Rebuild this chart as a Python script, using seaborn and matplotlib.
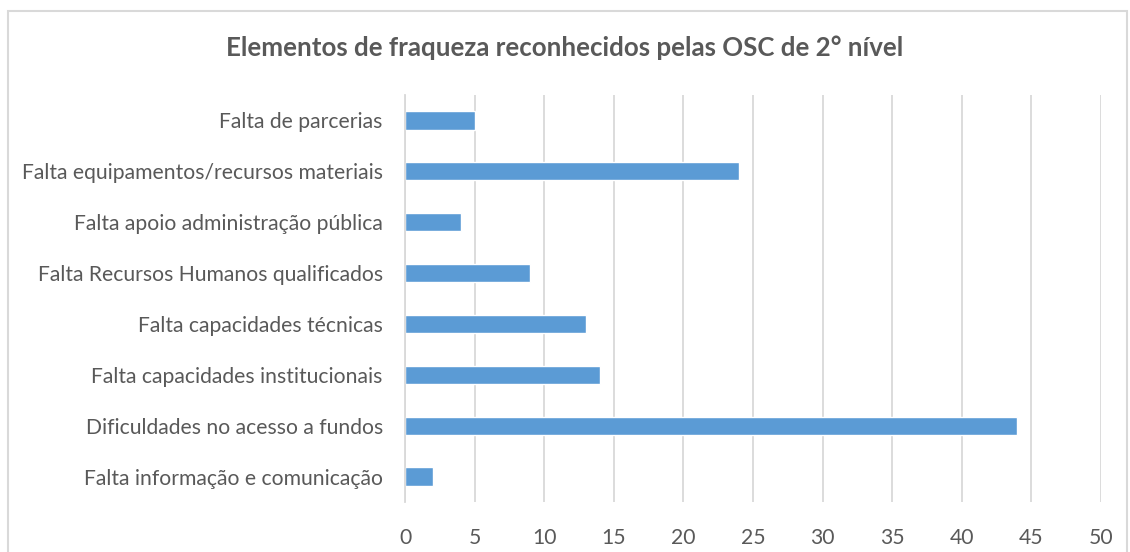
import matplotlib
matplotlib.use("Agg")
import matplotlib.pyplot as plt
import seaborn as sns
import pandas as pd
from matplotlib.patches import Rectangle

categories = [
    "Falta de parcerias",
    "Falta equipamentos/recursos materiais",
    "Falta apoio administração pública",
    "Falta Recursos Humanos qualificados",
    "Falta capacidades técnicas",
    "Falta capacidades institucionais",
    "Dificuldades no acesso a fundos",
    "Falta informação e comunicação",
]
values = [5, 24, 4, 9, 13, 14, 44, 2]
x_ticks = [0, 5, 10, 15, 20, 25, 30, 35, 40, 45, 50]
title = "Elementos de fraqueza reconhecidos pelas OSC de 2° nível"

df = pd.DataFrame({"categoria": categories, "valor": values})

sns.set_theme(style="white")
plt.rcParams["font.family"] = ["Lato", "DejaVu Sans"]

text_color = "#595959"
grid_color = "#d9d9d9"
bar_color = "#5b9bd5"

fig = plt.figure(figsize=(11.3, 5.52), dpi=100)
ax = fig.add_axes([405 / 1130, 1 - 502 / 552, (1101 - 405) / 1130, (502 - 95) / 552])

sns.barplot(data=df, x="valor", y="categoria", orient="h", color=bar_color,
            saturation=1, width=0.36, ax=ax)

ax.set_xlim(0, 50)
ax.set_xticks(x_ticks)
ax.set_xticklabels([str(t) for t in x_ticks])
ax.set_xlabel("")
ax.set_ylabel("")
ax.grid(axis="x", color=grid_color, linewidth=1.3)
ax.set_axisbelow(True)
for s in ["top", "right", "bottom"]:
    ax.spines[s].set_visible(False)
ax.spines["left"].set_color(grid_color)
ax.spines["left"].set_linewidth(1.3)
ax.tick_params(axis="both", length=0, labelsize=15.2, colors=text_color)
ax.tick_params(axis="x", pad=19)
ax.tick_params(axis="y", pad=16)

fig.suptitle(title, x=0.5, y=1 - 48 / 552, fontsize=18.6, fontweight="bold",
             color=text_color, va="center")

# light frame around the chart area
fig.patches.append(Rectangle((8 / 1130, -0.05), (1127 - 8) / 1130, 1 - 11 / 552 + 0.05,
                             transform=fig.transFigure, fill=False,
                             edgecolor=grid_color, linewidth=1.5))

fig.savefig("out.png", dpi=100, facecolor="white")
